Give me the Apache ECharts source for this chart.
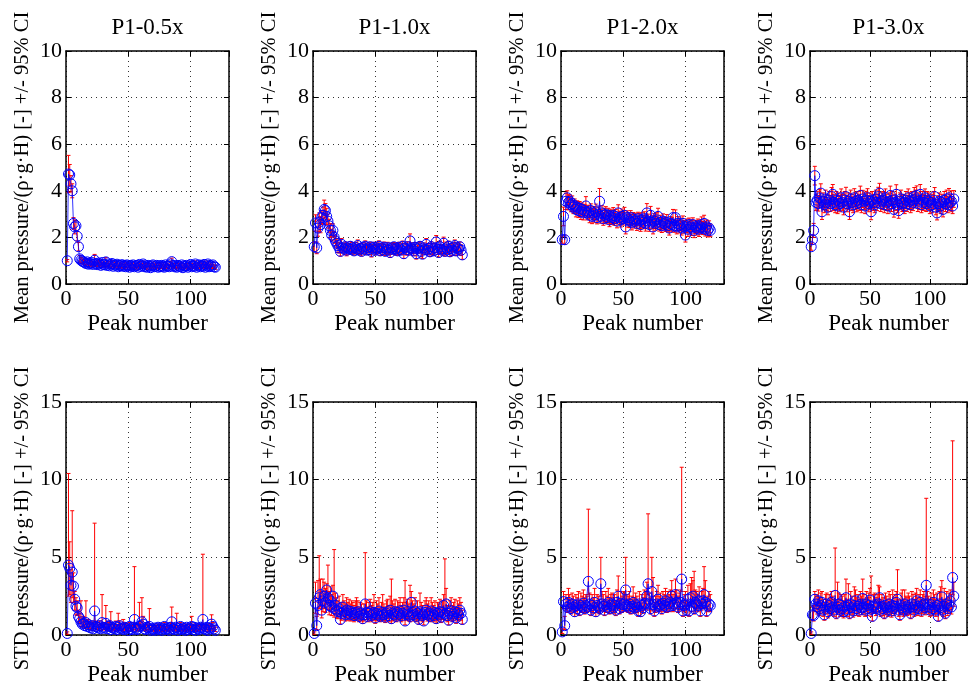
<!DOCTYPE html>
<html><head><meta charset="utf-8">
<script src="https://cdn.jsdelivr.net/npm/echarts@6.0.0/dist/echarts.min.js"></script>
<style>html,body{margin:0;padding:0;background:#fff}#c{width:970px;height:688px}</style>
</head><body><div id="c"></div><script>
// ---------- labels ----------
const TITLES = ['P1-0.5x', 'P1-1.0x', 'P1-2.0x', 'P1-3.0x'];
const MEAN_LABEL = 'Mean pressure/(\u03c1\u00b7g\u00b7H) [-] +/- 95% CI';
const STD_LABEL = 'STD pressure/(\u03c1\u00b7g\u00b7H) [-] +/- 95% CI';
const X_LABEL = 'Peak number';
const X_TICKS = [0, 50, 100];
const MEAN_TICKS = [0, 2, 4, 6, 8, 10];
const STD_TICKS = [0, 5, 10, 15];
const N_PEAKS = 120;

// ---------- mean pressure (top row) and +/- 95% CI half widths ----------
const mean05 = [
1.00,4.72,4.68,4.30,4.00,2.60,2.45,2.50,2.05,1.60,1.08,1.02,0.98,0.95,0.92,
0.88,0.95,0.85,0.90,0.86,0.92,0.84,1.02,0.88,0.83,0.90,0.86,0.80,0.92,0.84,
0.82,0.95,0.80,0.86,0.78,0.84,0.88,0.76,0.82,0.80,0.85,0.74,0.80,0.78,0.83,
0.76,0.80,0.74,0.82,0.78,0.72,0.80,0.76,0.82,0.74,0.78,0.80,0.72,0.84,0.76,
0.80,0.86,0.74,0.78,0.72,0.80,0.76,0.70,0.78,0.82,0.74,0.76,0.80,0.72,0.78,
0.74,0.80,0.76,0.72,0.82,0.76,0.78,0.74,0.86,0.96,0.80,0.74,0.78,0.72,0.80,
0.76,0.74,0.82,0.70,0.78,0.76,0.80,0.72,0.78,0.84,0.74,0.80,0.76,0.86,0.72,
0.78,0.82,0.74,0.80,0.76,0.84,0.72,0.78,0.86,0.74,0.80,0.76,0.82,0.74,0.72];
const ci05 = [
0.05,0.80,0.45,0.35,0.30,0.25,0.30,0.22,0.20,0.18,0.14,0.12,0.10,0.10,0.09,
0.10,0.12,0.09,0.11,0.10,0.13,0.09,0.25,0.10,0.08,0.11,0.09,0.10,0.12,0.09,
0.10,0.18,0.08,0.10,0.09,0.11,0.12,0.08,0.09,0.10,0.11,0.08,0.09,0.10,0.12,
0.08,0.09,0.10,0.11,0.08,0.09,0.10,0.08,0.12,0.09,0.10,0.08,0.09,0.13,0.08,
0.09,0.12,0.08,0.10,0.09,0.08,0.11,0.08,0.09,0.12,0.08,0.10,0.09,0.08,0.10,
0.08,0.11,0.09,0.08,0.10,0.09,0.08,0.10,0.12,0.15,0.09,0.08,0.10,0.08,0.09,
0.10,0.08,0.11,0.08,0.09,0.10,0.08,0.09,0.10,0.12,0.08,0.09,0.10,0.13,0.08,
0.09,0.11,0.08,0.10,0.09,0.14,0.08,0.09,0.12,0.08,0.10,0.09,0.11,0.08,0.09];

const mean10 = [
1.60,2.62,1.55,2.40,2.65,2.55,2.85,2.95,3.20,3.15,2.90,2.70,2.50,2.30,2.10,2.30,2.00,1.85,1.75,1.65,
1.55,1.40,1.70,1.55,1.50,1.60,1.45,1.55,1.50,1.62,1.48,1.55,1.42,1.58,1.50,1.65,1.45,1.52,1.40,1.58,
1.50,1.62,1.45,1.55,1.48,1.60,1.40,1.52,1.58,1.45,1.55,1.50,1.62,1.42,1.55,1.48,1.58,1.40,1.50,1.56,
1.45,1.35,1.55,1.50,1.60,1.48,1.52,1.42,1.58,1.50,1.45,1.62,1.30,1.55,1.48,1.60,1.45,1.85,1.55,1.50,
1.42,1.58,1.30,1.50,1.55,1.62,1.40,1.28,1.55,1.48,1.70,1.45,1.52,1.38,1.60,1.50,1.42,1.55,1.80,1.48,
1.35,1.60,1.50,1.45,1.75,1.40,1.55,1.48,1.62,1.38,1.52,1.45,1.58,1.65,1.42,1.55,1.50,1.60,1.45,1.25];
const ci10 = [
0.20,0.35,0.25,0.35,0.40,0.35,0.30,0.35,0.40,0.30,0.35,0.30,0.28,0.30,0.25,0.28,0.25,0.22,0.20,0.30,
0.22,0.20,0.25,0.18,0.22,0.20,0.24,0.18,0.22,0.20,0.19,0.23,0.18,0.21,0.20,0.24,0.18,0.22,0.20,0.19,
0.21,0.23,0.18,0.20,0.22,0.19,0.24,0.18,0.21,0.20,0.22,0.18,0.23,0.20,0.19,0.21,0.22,0.18,0.20,0.23,
0.19,0.21,0.20,0.22,0.18,0.24,0.20,0.19,0.21,0.23,0.18,0.22,0.20,0.19,0.24,0.21,0.20,0.30,0.22,0.19,
0.21,0.20,0.23,0.18,0.22,0.20,0.24,0.19,0.21,0.20,0.25,0.18,0.22,0.20,0.21,0.23,0.19,0.20,0.28,0.21,
0.20,0.24,0.19,0.21,0.26,0.20,0.25,0.19,0.22,0.20,0.21,0.23,0.19,0.24,0.20,0.22,0.21,0.20,0.23,0.19];

const mean20 = [
1.90,2.90,1.90,3.55,3.70,3.50,3.55,3.40,3.45,3.30,3.35,3.20,3.30,3.15,3.25,3.10,3.20,3.05,3.15,3.35,
3.05,3.10,2.95,3.15,2.90,3.05,2.95,3.10,2.85,3.00,3.55,2.90,3.05,2.80,2.95,3.00,2.85,2.95,2.75,2.90,
2.85,2.95,2.80,2.90,2.70,3.05,2.85,2.75,2.90,2.80,2.95,2.45,2.85,2.75,2.70,2.85,2.65,2.80,2.70,2.75,
2.60,2.80,2.70,2.55,2.75,2.65,2.80,2.60,3.05,2.70,2.55,2.95,2.65,2.45,2.70,2.60,2.75,2.90,2.55,2.65,
2.50,2.70,2.60,2.55,2.65,2.50,2.40,2.60,2.55,2.85,2.50,2.85,2.45,2.60,2.50,2.55,2.40,2.60,2.45,2.10,
2.50,2.35,2.55,2.45,2.40,2.55,2.30,2.45,2.40,2.50,2.35,2.45,2.55,2.40,2.60,2.35,2.45,2.30,2.40,2.30];
const ci20 = [
0.15,0.40,0.20,0.35,0.30,0.32,0.28,0.30,0.33,0.28,0.30,0.32,0.27,0.30,0.29,0.33,0.28,0.30,0.27,0.40,
0.30,0.28,0.32,0.29,0.31,0.28,0.30,0.33,0.27,0.30,0.55,0.29,0.31,0.28,0.30,0.32,0.27,0.30,0.29,0.31,
0.30,0.33,0.28,0.30,0.29,0.35,0.28,0.30,0.32,0.27,0.34,0.30,0.29,0.31,0.28,0.30,0.33,0.27,0.30,0.29,
0.30,0.28,0.32,0.29,0.31,0.28,0.30,0.33,0.40,0.30,0.29,0.38,0.28,0.30,0.32,0.29,0.31,0.35,0.28,0.30,
0.29,0.31,0.28,0.30,0.33,0.27,0.30,0.29,0.31,0.35,0.28,0.33,0.30,0.29,0.31,0.28,0.30,0.32,0.27,0.30,
0.29,0.31,0.28,0.30,0.32,0.29,0.31,0.28,0.30,0.29,0.31,0.30,0.33,0.28,0.35,0.29,0.30,0.28,0.31,0.27];

const mean30 = [
1.60,1.90,2.30,4.65,3.50,3.60,3.45,3.70,3.90,3.10,3.55,3.40,3.65,3.50,3.30,3.60,3.45,3.75,3.85,3.50,
3.40,3.60,3.35,3.55,3.45,3.70,3.50,3.30,3.60,3.75,3.45,3.55,3.10,3.65,3.50,3.40,3.70,3.55,3.45,3.60,
3.50,3.80,3.40,3.65,3.55,3.35,3.60,3.70,3.45,3.55,3.10,3.60,3.50,3.40,3.65,3.50,3.75,3.90,3.45,3.55,
3.60,3.40,3.70,3.50,3.35,3.55,3.80,3.45,3.60,3.20,3.50,3.85,3.40,3.15,3.55,3.65,3.45,3.50,3.35,3.60,
3.45,3.70,3.55,3.40,3.60,3.50,3.75,3.65,3.80,3.45,3.55,3.85,3.40,3.60,3.50,3.70,3.45,3.60,3.55,3.35,
3.50,3.40,3.60,3.75,3.30,3.05,3.45,3.55,3.35,3.50,3.20,3.60,3.45,3.65,3.40,3.70,3.50,3.55,3.35,3.65];
const ci30 = [
0.15,0.20,0.30,0.40,0.35,0.38,0.32,0.36,0.40,0.33,0.36,0.34,0.38,0.35,0.33,0.37,0.34,0.39,0.42,0.35,
0.34,0.37,0.33,0.36,0.35,0.38,0.34,0.33,0.37,0.40,0.35,0.36,0.33,0.38,0.35,0.34,0.39,0.36,0.35,0.37,
0.35,0.40,0.34,0.37,0.36,0.33,0.38,0.39,0.35,0.36,0.34,0.37,0.35,0.34,0.38,0.35,0.40,0.42,0.34,0.36,
0.37,0.34,0.38,0.35,0.33,0.36,0.40,0.34,0.37,0.33,0.35,0.41,0.34,0.33,0.36,0.38,0.34,0.35,0.33,0.37,
0.34,0.38,0.36,0.34,0.37,0.35,0.39,0.38,0.41,0.34,0.36,0.42,0.34,0.37,0.35,0.38,0.34,0.37,0.36,0.33,
0.35,0.34,0.37,0.39,0.33,0.30,0.34,0.36,0.33,0.35,0.32,0.37,0.34,0.38,0.34,0.40,0.35,0.45,0.33,0.36];

// ---------- STD pressure (bottom row) with lower / upper 95% CI ----------
const std05 = [
0.10,4.50,4.30,3.20,4.05,3.15,2.30,1.85,1.75,1.20,1.05,0.85,0.70,0.75,0.60,
0.80,0.55,0.65,0.50,0.45,0.60,0.40,1.55,0.55,0.50,0.45,0.60,0.40,0.80,0.50,
0.45,0.75,0.40,0.55,0.60,0.35,0.50,0.45,0.40,0.55,0.35,0.50,0.60,0.40,0.45,
0.35,0.50,0.40,0.45,0.30,0.55,0.40,0.35,0.50,1.00,0.45,0.35,0.40,0.55,0.60,
0.85,0.70,0.40,0.35,0.50,0.45,0.55,0.30,0.40,0.35,0.45,0.30,0.40,0.50,0.35,
0.45,0.30,0.40,0.55,0.35,0.45,0.40,0.30,0.50,0.85,0.40,0.35,0.50,0.45,0.30,
0.40,0.55,0.35,0.45,0.40,0.30,0.50,0.35,0.45,0.40,0.55,0.35,0.50,0.30,0.45,
0.40,0.35,0.50,0.45,1.00,0.40,0.35,0.50,0.30,0.45,0.40,0.70,0.55,0.40,0.30];
const stdLo05 = [
0.05,2.50,2.60,2.10,2.40,2.10,1.60,1.30,1.25,0.85,0.75,0.55,0.50,0.55,0.45,
0.50,0.40,0.45,0.35,0.32,0.42,0.28,0.80,0.40,0.35,0.32,0.42,0.28,0.50,0.35,
0.32,0.45,0.28,0.38,0.42,0.22,0.35,0.32,0.28,0.38,0.25,0.32,0.42,0.28,0.32,
0.22,0.35,0.28,0.32,0.22,0.38,0.28,0.25,0.35,0.50,0.32,0.25,0.28,0.32,0.40,
0.45,0.45,0.28,0.25,0.35,0.32,0.35,0.22,0.28,0.25,0.32,0.22,0.28,0.35,0.25,
0.32,0.22,0.28,0.38,0.25,0.32,0.28,0.22,0.35,0.50,0.28,0.25,0.35,0.30,0.22,
0.28,0.38,0.25,0.32,0.28,0.22,0.35,0.25,0.32,0.28,0.35,0.25,0.35,0.22,0.32,
0.28,0.25,0.35,0.32,0.45,0.28,0.25,0.35,0.22,0.32,0.28,0.40,0.38,0.28,0.22];
const stdHi05 = [
0.20,10.40,6.00,4.20,8.00,4.00,2.80,2.40,2.20,1.60,1.40,2.20,1.10,1.20,0.90,
2.20,0.90,1.00,0.80,0.70,0.90,0.70,7.20,0.90,0.80,0.70,0.90,0.70,2.60,0.80,
0.70,1.90,0.70,0.80,0.90,1.50,0.80,0.70,0.70,0.90,0.60,1.40,0.90,0.70,0.70,
1.00,0.80,0.70,0.70,0.50,0.80,0.60,0.60,0.80,4.40,0.70,0.60,0.70,2.10,0.90,
2.40,1.20,0.60,0.60,0.80,0.70,1.70,0.50,0.60,0.60,0.70,0.50,0.60,0.70,0.60,
0.70,0.50,0.60,0.80,0.50,0.70,0.60,0.50,0.80,1.80,0.60,0.60,0.70,1.40,0.50,
0.60,0.80,0.60,0.70,0.60,0.50,0.70,0.50,0.70,0.60,1.20,0.60,0.70,0.50,0.70,
0.60,0.60,0.70,0.70,5.20,0.60,0.60,0.70,0.50,0.70,0.60,1.30,0.80,0.60,0.50];

const std10 = [
0.10,2.05,0.60,1.90,2.40,2.60,1.60,2.20,2.50,2.10,2.90,2.40,1.90,2.20,1.80,2.50,1.70,1.90,1.60,1.50,
1.70,1.00,1.40,1.80,1.50,1.30,1.60,1.40,1.55,1.30,1.50,1.40,1.25,1.45,1.35,1.50,1.20,1.40,1.30,1.05,
1.30,2.00,1.45,1.20,1.40,1.50,1.25,1.35,1.45,1.10,1.40,1.30,1.55,1.20,1.35,1.45,1.30,1.15,1.40,1.50,
1.25,1.60,1.05,1.40,1.30,1.50,1.20,1.45,1.35,1.55,1.25,1.40,1.60,0.90,1.35,1.50,1.30,1.20,2.10,1.45,
1.30,1.55,1.20,1.40,1.00,1.50,1.35,1.25,0.90,1.45,1.60,1.30,1.40,1.20,1.55,1.35,1.25,1.45,1.05,1.40,
1.30,1.50,1.15,1.45,1.90,1.35,2.00,1.25,0.95,1.40,1.55,1.20,1.35,1.50,1.10,1.45,1.30,1.60,1.40,1.00];
const stdLo10 = [
0.05,1.40,0.35,1.30,1.70,1.80,1.10,1.50,1.70,1.45,2.00,1.65,1.30,1.50,1.25,1.70,1.15,1.30,1.10,1.05,
1.20,0.70,0.95,1.25,1.05,0.90,1.10,0.95,1.05,0.90,1.05,0.95,0.85,1.00,0.95,1.05,0.85,0.95,0.90,0.75,
0.90,1.40,1.00,0.85,0.95,1.05,0.85,0.95,1.00,0.75,0.95,0.90,1.05,0.85,0.95,1.00,0.90,0.80,0.95,1.05,
0.85,1.10,0.75,0.95,0.90,1.05,0.85,1.00,0.95,1.05,0.85,0.95,1.10,0.65,0.95,1.05,0.90,0.85,1.45,1.00,
0.90,1.05,0.85,0.95,0.70,1.05,0.95,0.85,0.65,1.00,1.10,0.90,0.95,0.85,1.05,0.95,0.85,1.00,0.75,0.95,
0.90,1.05,0.80,1.00,1.30,0.95,1.40,0.85,0.65,0.95,1.05,0.85,0.95,1.05,0.75,1.00,0.90,1.10,0.95,0.70];
const stdHi10 = [
0.20,3.40,1.20,3.50,5.10,3.60,2.80,3.60,3.40,3.00,3.30,4.50,2.80,3.10,2.60,3.20,5.50,2.70,2.40,2.20,
2.50,1.60,2.10,2.60,2.20,2.00,2.40,2.10,2.30,2.00,2.20,2.10,1.90,2.20,2.40,2.20,1.80,2.10,2.00,1.60,
2.00,5.30,2.20,1.80,2.10,2.30,1.90,2.10,2.60,1.70,2.20,2.00,2.40,1.80,2.10,2.60,2.00,1.80,2.20,2.30,
1.90,2.50,3.60,2.20,2.00,2.30,1.80,2.20,2.10,2.40,1.90,2.10,2.40,3.50,2.10,2.30,2.00,3.20,2.80,2.20,
2.00,2.40,1.80,2.20,1.60,2.70,2.10,1.90,1.50,2.20,2.40,2.00,2.20,1.80,2.40,2.10,1.90,2.20,1.70,2.10,
2.00,2.30,1.80,2.20,2.60,4.90,3.00,1.90,1.60,2.20,2.40,1.90,2.10,2.30,1.70,2.20,2.00,2.40,2.10,1.60];

const std20 = [
0.20,2.15,0.60,2.00,1.80,2.10,1.90,1.70,2.00,1.80,1.50,1.90,1.70,2.00,1.60,1.90,1.80,2.05,1.70,1.90,
1.80,3.45,2.00,1.60,1.90,1.75,2.10,1.50,1.90,1.80,1.70,3.30,2.00,1.85,1.60,1.95,1.80,2.10,1.70,1.90,
2.00,1.75,1.90,1.60,2.10,2.50,1.70,2.05,1.80,1.95,2.00,2.90,1.90,1.80,2.00,1.70,1.85,2.10,1.75,1.95,
1.80,1.55,2.00,1.50,1.90,1.75,2.00,2.05,2.50,3.30,2.00,1.70,2.80,1.95,1.55,1.80,2.00,2.30,1.85,1.95,
1.70,2.05,1.90,2.20,1.80,2.00,1.85,2.10,2.50,1.90,2.00,2.60,2.10,1.80,1.95,2.10,3.60,1.55,1.90,2.00,
1.60,2.30,1.55,2.40,1.85,2.50,1.70,2.10,2.00,1.90,2.20,1.55,2.00,2.20,2.60,2.10,1.55,1.85,2.00,1.90];
const stdLo20 = [
0.10,1.70,0.35,1.60,1.45,1.70,1.50,1.35,1.60,1.45,1.20,1.50,1.35,1.60,1.25,1.50,1.45,1.65,1.35,1.50,
1.45,2.60,1.60,1.25,1.50,1.40,1.70,1.20,1.50,1.45,1.35,2.50,1.60,1.50,1.25,1.55,1.45,1.70,1.35,1.50,
1.60,1.40,1.50,1.25,1.70,2.00,1.35,1.65,1.45,1.55,1.60,2.30,1.50,1.45,1.60,1.35,1.50,1.70,1.40,1.55,
1.45,1.20,1.60,1.20,1.50,1.40,1.60,1.65,2.00,2.60,1.60,1.35,2.20,1.55,1.20,1.45,1.60,1.85,1.50,1.55,
1.35,1.65,1.50,1.75,1.45,1.60,1.50,1.70,2.00,1.50,1.60,2.10,1.70,1.45,1.55,1.70,2.80,1.20,1.50,1.60,
1.25,1.85,1.20,1.90,1.50,2.00,1.35,1.70,1.60,1.50,1.75,1.20,1.60,1.75,2.10,1.70,1.20,1.50,1.60,1.50];
const stdHi20 = [
0.40,2.80,1.20,2.60,2.40,3.00,2.60,2.30,2.70,2.50,2.10,2.60,2.40,2.80,2.20,2.70,2.50,2.90,2.40,2.60,
2.50,8.10,2.70,2.20,2.60,2.40,3.00,2.10,2.60,2.50,2.30,5.00,2.80,2.60,2.20,2.80,2.50,3.00,2.40,2.60,
2.70,2.40,2.60,2.20,2.90,3.80,2.30,2.80,2.50,2.70,2.80,5.00,2.60,2.50,2.80,2.30,2.50,3.10,2.40,2.70,
2.50,2.10,2.80,2.00,2.60,2.40,2.90,2.80,3.40,7.80,2.70,2.40,5.00,3.70,2.10,2.50,2.80,3.20,2.50,2.70,
2.30,2.80,2.60,3.00,2.50,2.80,2.60,2.90,3.50,2.60,2.80,3.60,2.90,2.50,2.70,2.90,10.80,2.10,2.60,2.80,
2.20,3.20,2.10,3.30,3.70,3.50,4.10,2.90,2.80,2.60,3.10,2.10,2.80,3.00,4.40,3.50,2.20,2.50,2.80,2.60];

const std30 = [
0.10,1.30,1.25,2.30,2.00,1.80,2.20,1.70,1.90,2.10,1.60,1.30,1.80,2.00,1.50,1.90,1.70,2.10,1.80,1.60,
2.55,1.40,1.80,2.00,1.60,1.90,1.70,1.50,1.85,2.40,1.60,1.90,1.40,2.00,1.75,1.55,1.90,2.20,1.70,1.85,
1.60,1.95,1.75,2.35,1.80,1.60,2.00,1.70,1.90,2.25,1.65,1.20,1.85,1.95,1.70,1.80,2.00,2.40,1.60,1.85,
1.70,1.40,1.90,1.75,1.60,2.00,1.80,1.55,1.90,1.70,1.85,2.10,2.30,1.60,1.30,1.90,1.75,1.60,2.00,1.80,
1.65,1.90,1.75,1.40,2.00,1.80,1.60,1.95,2.20,1.70,1.85,2.10,1.60,1.90,2.00,1.75,3.20,2.00,1.80,1.60,
1.95,1.70,2.10,1.80,1.60,1.90,1.20,2.00,1.75,2.45,1.60,1.85,1.40,2.00,1.70,1.90,2.20,1.80,3.70,2.50];
const stdLo30 = [
0.05,0.95,0.90,1.70,1.50,1.35,1.65,1.25,1.40,1.55,1.20,0.95,1.35,1.50,1.10,1.40,1.25,1.55,1.35,1.20,
1.80,1.05,1.35,1.50,1.20,1.40,1.25,1.10,1.40,1.75,1.20,1.40,1.05,1.50,1.30,1.15,1.40,1.65,1.25,1.40,
1.20,1.45,1.30,1.70,1.35,1.20,1.50,1.25,1.40,1.65,1.20,0.90,1.40,1.45,1.25,1.35,1.50,1.75,1.20,1.40,
1.25,1.05,1.40,1.30,1.20,1.50,1.35,1.15,1.40,1.25,1.40,1.55,1.65,1.20,0.95,1.40,1.30,1.20,1.50,1.35,
1.25,1.40,1.30,1.05,1.50,1.35,1.20,1.45,1.60,1.25,1.40,1.55,1.20,1.40,1.50,1.30,2.20,1.50,1.35,1.20,
1.45,1.25,1.55,1.35,1.20,1.40,0.90,1.50,1.30,1.80,1.20,1.40,1.05,1.50,1.25,1.40,1.65,1.35,2.60,1.85];
const stdHi30 = [
0.20,1.80,1.90,2.80,2.60,2.50,2.90,2.40,2.70,2.80,2.30,2.00,2.60,2.70,2.20,2.60,2.40,2.80,2.50,2.30,
5.60,2.10,3.40,2.70,2.30,2.60,2.50,2.20,2.60,3.60,2.30,3.30,2.10,2.80,2.50,2.20,3.10,2.90,2.40,2.60,
2.30,2.80,2.50,3.60,2.60,2.30,2.80,2.40,2.70,3.00,3.80,1.90,2.60,2.70,2.40,2.60,3.20,3.10,2.30,2.60,
2.40,2.10,2.70,2.50,2.30,2.80,2.60,2.20,2.90,2.40,2.60,2.80,4.20,2.30,2.00,2.70,2.90,2.30,2.90,2.50,
2.40,2.70,2.50,2.10,2.80,2.60,2.30,2.70,3.00,2.40,2.60,2.90,2.30,2.60,2.80,2.50,8.80,2.80,2.50,2.30,
2.70,2.40,2.90,2.60,2.30,2.70,1.90,2.80,3.10,3.50,2.30,3.00,2.10,2.80,2.40,2.70,2.90,2.60,12.50,3.40];

// ---------- build chart ----------
const PEAKS = Array.from({length: N_PEAKS}, (_, i) => i + 1);
const panels = [
  {row: 0, col: 0, v: mean05, lo: mean05.map((m, i) => m - ci05[i]), hi: mean05.map((m, i) => m + ci05[i])},
  {row: 0, col: 1, v: mean10, lo: mean10.map((m, i) => m - ci10[i]), hi: mean10.map((m, i) => m + ci10[i])},
  {row: 0, col: 2, v: mean20, lo: mean20.map((m, i) => m - ci20[i]), hi: mean20.map((m, i) => m + ci20[i])},
  {row: 0, col: 3, v: mean30, lo: mean30.map((m, i) => m - ci30[i]), hi: mean30.map((m, i) => m + ci30[i])},
  {row: 1, col: 0, v: std05, lo: stdLo05, hi: stdHi05},
  {row: 1, col: 1, v: std10, lo: stdLo10, hi: stdHi10},
  {row: 1, col: 2, v: std20, lo: stdLo20, hi: stdHi20},
  {row: 1, col: 3, v: std30, lo: stdLo30, hi: stdHi30}
];

const LEFTS = [66, 313, 561, 810], TOPS = [51, 402], W = 163, H = 233;
const FONT = '"Liberation Serif","Times New Roman",serif';
const BLACK = '#000';
const axisLineStyle = {show: true, onZero: false, lineStyle: {color: BLACK, width: 1.5}};
const tickStyle = {show: true, inside: true, length: 5, lineStyle: {color: BLACK, width: 1}};
const splitStyle = {show: true, lineStyle: {color: '#333', width: 1, type: [1, 4]}};

const grid = [], xAxis = [], yAxis = [], series = [];
panels.forEach((p, k) => {
  grid.push({left: LEFTS[p.col], top: TOPS[p.row], width: W, height: H});
  const ticks = p.row === 0 ? MEAN_TICKS : STD_TICKS;
  const yMax = ticks[ticks.length - 1], yInt = ticks[1] - ticks[0];
  xAxis.push({gridIndex: k, type: 'value', min: 0, max: 131, interval: 50, position: 'bottom',
    name: X_LABEL, nameLocation: 'middle', nameGap: 28,
    nameTextStyle: {fontFamily: FONT, fontSize: 23, color: BLACK},
    axisLine: axisLineStyle, axisTick: tickStyle,
    axisLabel: {fontFamily: FONT, fontSize: 22, color: BLACK, margin: 4,
      formatter: v => X_TICKS.includes(v) ? String(v) : ''},
    splitLine: splitStyle});
  xAxis.push({gridIndex: k, type: 'value', min: 0, max: 131, interval: 50, position: 'top',
    name: p.row === 0 ? TITLES[p.col] : '', nameLocation: 'middle', nameGap: 12,
    nameTextStyle: {fontFamily: FONT, fontSize: 23, color: BLACK},
    axisLine: axisLineStyle, axisTick: tickStyle, axisLabel: {show: false}, splitLine: {show: false}});
  yAxis.push({gridIndex: k, type: 'value', min: 0, max: yMax, interval: yInt, position: 'left',
    name: p.row === 0 ? MEAN_LABEL : STD_LABEL, nameLocation: 'middle', nameGap: 33,
    nameTextStyle: {fontFamily: FONT, fontSize: 20.5, color: BLACK},
    axisLine: axisLineStyle, axisTick: tickStyle,
    axisLabel: {fontFamily: FONT, fontSize: 22, color: BLACK, margin: 4},
    splitLine: splitStyle});
  yAxis.push({gridIndex: k, type: 'value', min: 0, max: yMax, interval: yInt, position: 'right',
    axisLine: axisLineStyle, axisTick: tickStyle, axisLabel: {show: false}, splitLine: {show: false}});

  series.push({
    type: 'custom', xAxisIndex: 2 * k, yAxisIndex: 2 * k, silent: true,
    data: PEAKS.map((x, i) => [x, p.lo[i], p.hi[i]]),
    encode: {x: 0, y: [1, 2]},
    renderItem: (params, api) => {
      const x = api.value(0);
      const a = api.coord([x, api.value(1)]);
      const b = api.coord([x, api.value(2)]);
      const st = {stroke: '#ff0000', lineWidth: 1};
      const c = 2;
      return {type: 'group', children: [
        {type: 'line', shape: {x1: a[0], y1: a[1], x2: b[0], y2: b[1]}, style: st},
        {type: 'line', shape: {x1: a[0] - c, y1: a[1], x2: a[0] + c, y2: a[1]}, style: st},
        {type: 'line', shape: {x1: b[0] - c, y1: b[1], x2: b[0] + c, y2: b[1]}, style: st}
      ]};
    }
  });
  series.push({
    type: 'line', xAxisIndex: 2 * k, yAxisIndex: 2 * k, silent: true,
    data: PEAKS.map((x, i) => [x, p.v[i]]),
    symbol: 'circle', symbolSize: 10, showSymbol: true,
    lineStyle: {color: '#0000ff', width: 0.8},
    itemStyle: {color: 'rgba(0,0,0,0)', borderColor: '#0000ff', borderWidth: 1}
  });
});

const chart = echarts.init(document.getElementById('c'), null, {renderer: 'canvas'});
chart.setOption({animation: false, backgroundColor: '#fff', grid, xAxis, yAxis, series});
</script></body></html>
